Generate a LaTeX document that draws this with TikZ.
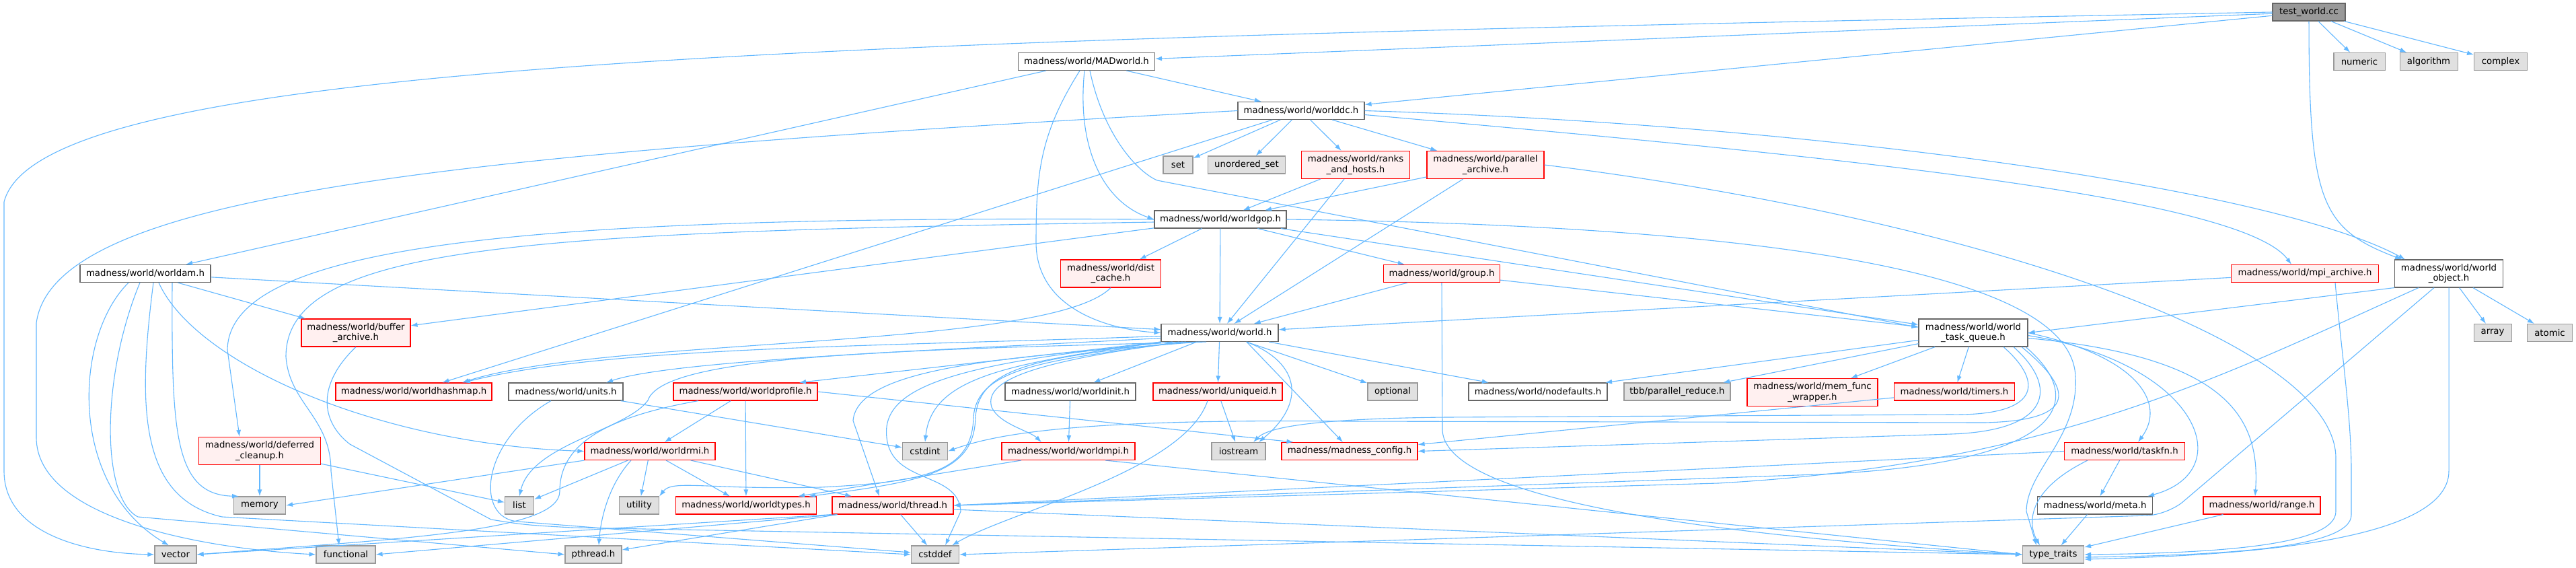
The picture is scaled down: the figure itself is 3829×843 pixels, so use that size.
\documentclass[tikz,border=0pt]{standalone}
\usepackage{fontspec}
\setmainfont{DejaVu Sans}
\usepackage{tikz}
\usetikzlibrary{arrows.meta}
\definecolor{edgeblue}{RGB}{99,184,255}
\definecolor{grey40}{RGB}{102,102,102}
\definecolor{grey60}{RGB}{153,153,153}
\definecolor{sysgray}{RGB}{224,224,224}
\definecolor{truncred}{RGB}{255,0,0}
\definecolor{truncfill}{RGB}{255,240,240}
\newcommand{\doxfont}{\fontsize{13.3}{15.5}\selectfont}

\begin{document}
\begin{tikzpicture}[x=1pt, y=-1pt,
    >={Latex[length=10pt,width=7pt]},   % Pfeilspitzen
    hdr/.style={draw=grey40, fill=white, line width=1.1pt, minimum height=26pt,
      inner xsep=7pt, inner ysep=2pt, align=center, font=\doxfont},
    sys/.style={hdr, draw=grey60, fill=sysgray},
    trunc/.style={hdr, draw=truncred, fill=truncfill},
    root/.style={hdr, fill=grey60},
    two/.style={minimum height=41pt},
    dep/.style={->, draw=edgeblue, line width=1.1pt}]
    % Bildbereich
    \fill[white] (0,0) rectangle (3829,843);
    \useasboundingbox (0,0) rectangle (3829,843);
    % Knoten
    \node[root, minimum width=108pt] (test) at (3432,18) {test\_world.cc};
    \node[hdr, minimum width=203pt] (madworld) at (1615,91.5) {madness/world/MADworld.h};
    \node[sys, minimum width=76pt] (numeric) at (3507,91.5) {numeric};
    \node[sys, minimum width=86pt] (algorithm) at (3610,91.5) {algorithm};
    \node[sys, minimum width=79pt] (complex) at (3717,91.5) {complex};
    \node[hdr, minimum width=188pt] (worlddc) at (1934,164.5) {madness/world/worlddc.h};
    \node[sys, minimum width=44pt] (stdset) at (1751,245) {set};
    \node[sys, minimum width=115pt] (uset) at (1853,245) {unordered\_set};
    \node[trunc, two, minimum width=161pt] (ranks) at (2015,245) {madness/world/ranks\\\_and\_hosts.h};
    \node[trunc, two, minimum width=174pt] (parallel) at (2208,245) {madness/world/parallel\\\_archive.h};
    \node[hdr, minimum width=196pt] (worldgop) at (1814,326) {madness/world/worldgop.h};
    \node[hdr, minimum width=194pt] (worldam) at (216,406.5) {madness/world/worldam.h};
    \node[trunc, two, minimum width=149pt] (distcache) at (1651,406.5) {madness/world/dist\\\_cache.h};
    \node[trunc, minimum width=173pt] (group) at (2143,406.5) {madness/world/group.h};
    \node[trunc, minimum width=219pt] (mpiarch) at (3426,406.5) {madness/world/mpi\_archive.h};
    \node[hdr, two, minimum width=161pt] (worldobj) at (3640,406.5) {madness/world/world\\\_object.h};
    \node[trunc, two, minimum width=162pt] (bufarch) at (529,494.5) {madness/world/buffer\\\_archive.h};
    \node[hdr, minimum width=174pt] (world) at (1813,494.5) {madness/world/world.h};
    \node[hdr, two, minimum width=162pt] (taskq) at (2933,494.5) {madness/world/world\\\_task\_queue.h};
    \node[sys, minimum width=56pt] (array) at (3705,494.5) {array};
    \node[sys, minimum width=67pt] (atomic) at (3790,494.5) {atomic};
    \node[trunc, minimum width=232pt] (hashmap) at (615,582) {madness/world/worldhashmap.h};
    \node[hdr, minimum width=170pt] (units) at (841,582) {madness/world/units.h};
    \node[trunc, minimum width=214pt] (profile) at (1108,582) {madness/world/worldprofile.h};
    \node[hdr, minimum width=194pt] (init) at (1591,582) {madness/world/worldinit.h};
    \node[trunc, minimum width=192pt] (uniqueid) at (1810,582) {madness/world/uniqueid.h};
    \node[sys, minimum width=74pt] (optional) at (2070,582) {optional};
    \node[hdr, minimum width=206pt] (nodefaults) at (2286,582) {madness/world/nodefaults.h};
    \node[sys, minimum width=158pt] (tbbreduce) at (2493,582) {tbb/parallel\_reduce.h};
    \node[trunc, two, minimum width=194pt] (memfunc) at (2694,583) {madness/world/mem\_func\\\_wrapper.h};
    \node[trunc, minimum width=179pt] (timers) at (2905,582) {madness/world/timers.h};
    \node[trunc, two, minimum width=181pt] (deferred) at (386,670) {madness/world/deferred\\\_cleanup.h};
    \node[trunc, minimum width=194pt] (rmi) at (966,670.5) {madness/world/worldrmi.h};
    \node[sys, minimum width=67pt] (cstdint) at (1375,670.5) {cstdint};
    \node[trunc, minimum width=198pt] (mpi) at (1588,670.5) {madness/world/worldmpi.h};
    \node[sys, minimum width=80pt] (iostream) at (1841,670.5) {iostream};
    \node[trunc, minimum width=202pt] (config) at (2006,670.5) {madness/madness\_config.h};
    \node[trunc, minimum width=179pt] (taskfn) at (3158,670.5) {madness/world/taskfn.h};
    \node[sys, minimum width=77pt] (memory) at (386,751) {memory};
    \node[sys, minimum width=43pt] (list) at (772,751) {list};
    \node[sys, minimum width=59pt] (utility) at (950,751) {utility};
    \node[trunc, minimum width=209pt] (types) at (1109,751) {madness/world/worldtypes.h};
    \node[trunc, minimum width=180pt] (thread) at (1327,751) {madness/world/thread.h};
    \node[hdr, minimum width=171pt] (meta) at (3114,751) {madness/world/meta.h};
    \node[trunc, minimum width=174pt] (range) at (3362,751) {madness/world/range.h};
    \node[sys, minimum width=62pt] (vector) at (261,824) {vector};
    \node[sys, minimum width=88pt] (functional) at (514,824) {functional};
    \node[sys, minimum width=84pt] (pthread) at (882,824) {pthread.h};
    \node[sys, minimum width=71pt] (cstddef) at (1390,824) {cstddef};
    \node[sys, minimum width=91pt] (typetraits) at (3052,824) {type\_traits};
    % Kanten, gerade
    \foreach \p/\q in {test/madworld, test/worlddc, test/numeric, test/algorithm, test/complex,
        madworld/worlddc, madworld/worldam, worlddc/stdset, worlddc/uset, worlddc/ranks,
        worlddc/parallel, worlddc/hashmap, ranks/worldgop, ranks/world, parallel/worldgop,
        parallel/world, worldgop/distcache, worldgop/world, worldgop/group, worldgop/bufarch,
        worldgop/taskq, worldam/bufarch, worldam/world, group/world, group/taskq, mpiarch/world,
        worldobj/array, worldobj/atomic, world/init, world/uniqueid, world/optional,
        world/nodefaults, taskq/nodefaults, taskq/tbbreduce, taskq/memfunc, taskq/timers,
        timers/config, init/mpi, uniqueid/iostream, units/cstdint, profile/rmi, profile/types,
        rmi/list, rmi/utility, rmi/types, rmi/thread, deferred/memory, deferred/list,
        taskfn/meta, meta/typetraits, range/typetraits, thread/cstddef, thread/pthread}
      \draw[dep] (\p) -- (\q);
    \draw[dep] ([xshift=40pt]world.south) -- ([xshift=-10pt]config.north);
    \draw[dep] (world.south west) -- ([xshift=80pt]profile.north);
    \draw[dep] (worldobj.south west) -- (taskq.east);
    \draw[dep] (profile.east) -- ([xshift=18pt]config.north west);
    \draw[dep] (rmi.south west) -- (memory.east);
    \draw[dep] ([xshift=-70pt]mpi.south) -- ([xshift=-28pt]types.north east);
    \draw[dep] ([xshift=55pt]mpi.south) -- (typetraits.west);
    \draw[dep] (thread.south west) -- (vector.east);
    \draw[dep] ([xshift=8pt]thread.south west) -- (functional.east);
    \draw[dep] ([yshift=-6pt]thread.east) -- (typetraits.west);
    \draw[dep] (taskfn.west) -- (thread.east);
    % Kanten, gebogen
    \draw[dep] (test.west) .. controls (1200,60) and (60,90) .. (6,300) -- (6,700)
      .. controls (6,790) and (120,822) .. (vector.west);
    \draw[dep] (test.south) .. controls (3432,300) and (3450,340) .. ([xshift=-70pt]worldobj.north);
    \draw[dep] ([xshift=-3pt]madworld.south) .. controls (1600,220) and (1640,300) .. (worldgop.west);
    \draw[dep] ([xshift=-10pt]madworld.south) .. controls (1545,200) and (1540,260) .. (1540,360)
      .. controls (1540,460) and (1650,490) .. (world.west);
    \draw[dep] ([xshift=5pt]madworld.south) .. controls (1640,200) and (1690,255) .. (1720,268)
      -- ([yshift=8pt]taskq.west);
    \draw[dep] (worlddc.west) .. controls (650,230) and (80,290) .. (54,480) -- (54,650)
      .. controls (54,770) and (300,815) .. (functional.west);
    \draw[dep] (worlddc.east) .. controls (2700,185) and (3380,280) .. ([xshift=-65pt]worldobj.north);
    \draw[dep] ([yshift=-6pt]worlddc.east) .. controls (2700,230) and (3330,290) .. ([xshift=-20pt]mpiarch.north);
    \draw[dep] (worldgop.west) .. controls (800,320) and (340,360) .. (338,520)
      -- ([xshift=-30pt]deferred.north);
    \draw[dep] ([yshift=-4pt]worldgop.west) .. controls (800,345) and (425,360) .. (425,530)
      .. controls (430,600) and (492,620) .. (492,700) -- ([xshift=-10pt]functional.north);
    \draw[dep] (worldgop.east) .. controls (2600,335) and (3080,400) .. (3085,560)
      .. controls (3090,650) and (3012,700) .. (3012,760) -- ([xshift=-25pt]typetraits.north);
    \draw[dep] ([xshift=20pt]worldam.south) .. controls (290,540) and (560,660) .. (rmi.west);
    \draw[dep] ([xshift=40pt]worldam.south) .. controls (255,640) and (258,735) .. ([xshift=8pt]memory.north west);
    \draw[dep] ([xshift=-25pt]worldam.south) .. controls (110,500) and (100,720) .. ([xshift=-10pt]vector.north);
    \draw[dep] ([xshift=-8pt]worldam.south) .. controls (150,560) and (150,740) .. (205,768) -- (pthread.west);
    \draw[dep] ([xshift=12pt]worldam.south) .. controls (205,600) and (205,740) .. (330,768) -- (cstddef.west);
    \draw[dep] (distcache.south) .. controls (1560,520) and (900,500) .. ([xshift=72pt]hashmap.north);
    \draw[dep] (parallel.east) .. controls (2900,320) and (3470,500) .. (3472,680) -- (3472,760)
      .. controls (3472,810) and (3300,822) .. (typetraits.east);
    \draw[dep] ([xshift=45pt]mpiarch.south) .. controls (3480,520) and (3495,620) .. (3495,700)
      -- (3495,765) .. controls (3495,815) and (3300,825) .. ([yshift=-4pt]typetraits.east);
    \draw[dep] (worldobj.south) -- (3640,700) .. controls (3640,810) and (3300,826) .. ([yshift=-7pt]typetraits.east);
    \draw[dep, rounded corners=30pt] ([xshift=-22pt]worldobj.south) -- (3222,765) -- (cstddef.east);
    \draw[dep] ([xshift=-45pt]worldobj.south) .. controls (3300,560) and (3050,690) .. (2554,718) -- (thread.east);
    \draw[dep] (group.south) -- (2144,640) .. controls (2150,730) and (2450,790) .. (typetraits.west);
    \draw[dep] ([yshift=-5pt]world.west) .. controls (1300,515) and (900,515) .. ([xshift=74pt]hashmap.north);
    \draw[dep] ([yshift=-8pt]world.west) .. controls (1400,520) and (1000,535) .. ([xshift=60pt]units.north);
    \draw[dep] ([xshift=-20pt]world.south) .. controls (1300,520) and (985,530) .. (963,595)
      .. controls (930,640) and (790,660) .. (list.north);
    \draw[dep] ([xshift=-30pt]world.south) .. controls (1500,530) and (1275,545) .. (1268,625)
      -- ([xshift=-20pt]thread.north);
    \draw[dep] ([xshift=-50pt]world.south) .. controls (1560,530) and (1455,540) .. (1450,620)
      .. controls (1448,700) and (1380,715) .. ([xshift=-12pt]types.north east);
    \draw[dep] ([xshift=-55pt]world.south) .. controls (1560,535) and (1452,545) .. (1447,620)
      .. controls (1445,700) and (1380,716) .. (1220,724) .. controls (1050,728) and (1000,712) .. (utility.north east);
    \draw[dep] ([xshift=40pt]world.south) .. controls (1935,540) and (1940,600) .. ([xshift=30pt]iostream.north);
    \draw[dep] ([xshift=-60pt]world.south) .. controls (1560,535) and (1460,560) .. (1474,605)
      .. controls (1485,630) and (1530,640) .. ([xshift=-40pt]mpi.north);
    \draw[dep] (world.south west) .. controls (1500,540) and (1385,560) .. (cstdint.north);
    \draw[dep] ([xshift=-70pt]world.south) .. controls (1400,540) and (1310,580) .. (1318,650)
      .. controls (1325,720) and (1425,700) .. (1428,760) -- ([xshift=15pt]cstddef.north);
    \draw[dep] ([xshift=45pt]taskq.south) .. controls (3040,570) and (3030,618) .. (2900,616) -- (2150,620)
      .. controls (1950,622) and (1885,635) .. ([xshift=22pt]iostream.north);
    \draw[dep] ([xshift=60pt]taskq.south) .. controls (3060,575) and (3050,640) .. (2900,645) -- (config.east);
    \draw[dep] ([xshift=72pt]taskq.south) .. controls (3090,585) and (3080,625) .. (2950,628) -- (2000,626)
      .. controls (1600,622) and (1480,645) .. (cstdint.east);
    \draw[dep] ([xshift=78pt]taskq.south) .. controls (3110,600) and (3060,690) .. (2700,705) -- (thread.east);
    \draw[dep] (taskq.east) .. controls (3180,530) and (3220,600) .. ([xshift=20pt]taskfn.north);
    \draw[dep] ([yshift=-4pt]taskq.east) .. controls (3270,540) and (3330,700) .. ([xshift=-8pt]meta.north east);
    \draw[dep] ([yshift=-8pt]taskq.east) .. controls (3310,530) and (3360,620) .. ([xshift=-10pt]range.north);
    \draw[dep] ([xshift=-55pt]taskfn.south) .. controls (3010,730) and (3015,780) .. ([xshift=-20pt]typetraits.north);
    \draw[dep] (bufarch.south) .. controls (472,570) and (475,625) .. (520,660) -- (730,772)
      .. controls (780,780) .. (850,784) -- (typetraits.west);
    \draw[dep] ([xshift=-22pt]units.south) .. controls (715,655) and (705,770) .. (770,775) -- ([yshift=3pt]cstddef.west);
    \draw[dep] ([xshift=-70pt]profile.south) .. controls (900,620) and (832,660) .. (832,730)
      .. controls (832,790) and (600,800) .. (vector.east);
    \draw[dep] ([xshift=-28pt]rmi.south) .. controls (905,720) and (893,770) .. ([xshift=8pt]pthread.north);
    \draw[dep] ([xshift=-15pt]uniqueid.south) .. controls (1760,700) and (1500,760) .. ([xshift=25pt]cstddef.north);
\end{tikzpicture}
\end{document}
